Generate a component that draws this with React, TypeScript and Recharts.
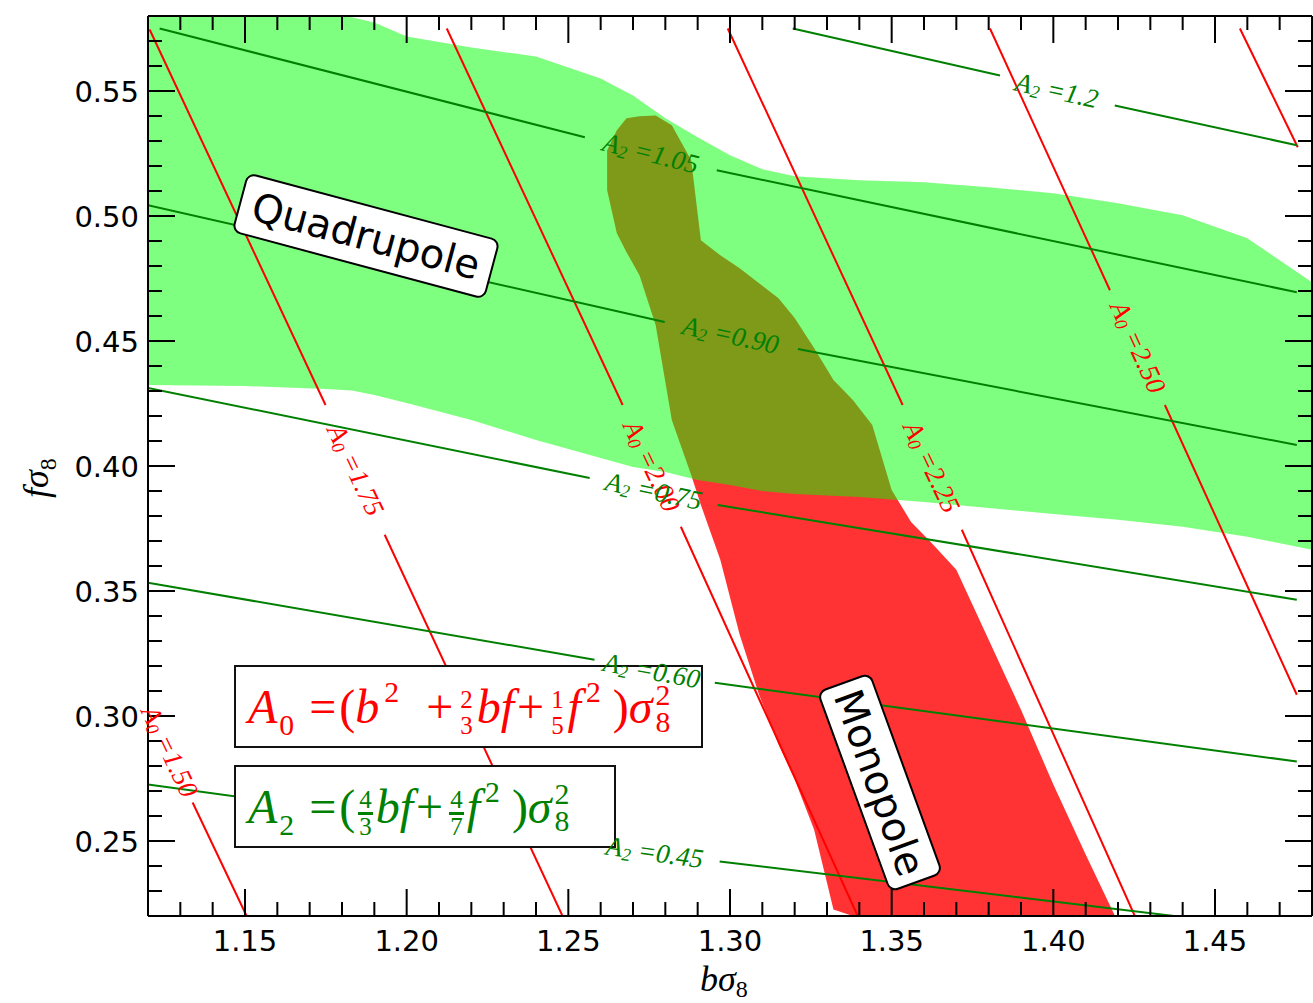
import React from 'react';
import { ComposedChart, Area, Line, XAxis, YAxis, ReferenceDot } from 'recharts';

// axis ticks (minor every 0.01, labelled every 0.05)
const X_TICKS = [
  1.13, 1.14, 1.15, 1.16, 1.17, 1.18, 1.19, 1.2, 1.21, 1.22, 1.23, 1.24, 1.25, 1.26, 1.27, 1.28, 1.29,
  1.3, 1.31, 1.32, 1.33, 1.34, 1.35, 1.36, 1.37, 1.38, 1.39, 1.4, 1.41, 1.42, 1.43, 1.44, 1.45, 1.46, 1.47,
];
const Y_TICKS = [
  0.23, 0.24, 0.25, 0.26, 0.27, 0.28, 0.29, 0.3, 0.31, 0.32, 0.33, 0.34, 0.35, 0.36, 0.37, 0.38, 0.39,
  0.4, 0.41, 0.42, 0.43, 0.44, 0.45, 0.46, 0.47, 0.48, 0.49, 0.5, 0.51, 0.52, 0.53, 0.54, 0.55, 0.56, 0.57,
];

// quadrupole band (green)
const quadX = [1.12, 1.15, 1.175, 1.183, 1.19, 1.2, 1.22, 1.24, 1.26, 1.27, 1.28, 1.29, 1.3, 1.31, 1.32, 1.34, 1.36, 1.38, 1.4, 1.42, 1.44, 1.46, 1.48];
const quadLow = [0.4324, 0.432, 0.4308, 0.4302, 0.4284, 0.4252, 0.4184, 0.4104, 0.4032, 0.3996, 0.3976, 0.3944, 0.3924, 0.39, 0.3888, 0.3876, 0.3856, 0.3832, 0.3808, 0.3785, 0.3757, 0.3717, 0.3665];
const quadHigh = [0.58, 0.58, 0.58, 0.5795, 0.5774, 0.5718, 0.5674, 0.5638, 0.555, 0.5482, 0.5391, 0.5315, 0.5243, 0.5187, 0.5159, 0.5143, 0.5135, 0.5115, 0.5091, 0.5051, 0.5003, 0.4911, 0.4735];

// monopole region (red)
const monoX = [1.262, 1.265, 1.268, 1.272, 1.277, 1.282, 1.288, 1.291, 1.297, 1.303, 1.309, 1.315, 1.32, 1.326, 1.332, 1.338, 1.344, 1.35, 1.356, 1.362, 1.37, 1.38, 1.39, 1.4, 1.41, 1.419];
const monoLow = [0.5103, 0.4931, 0.4855, 0.4763, 0.4564, 0.4184, 0.3964, 0.3844, 0.3625, 0.3325, 0.3085, 0.2886, 0.2746, 0.2546, 0.2226, 0.22, 0.22, 0.22, 0.22, 0.22, 0.22, 0.22, 0.22, 0.22, 0.22, 0.22];
const monoHigh = [0.5263, 0.5343, 0.5391, 0.5399, 0.5402, 0.5363, 0.5223, 0.4903, 0.4843, 0.4791, 0.4731, 0.4671, 0.4592, 0.4472, 0.4344, 0.4264, 0.4164, 0.3904, 0.3776, 0.3697, 0.3585, 0.3305, 0.3025, 0.2726, 0.2446, 0.2202];

type Contour = { xs: number[]; ys: (number | null)[] };

// A0 contours, a null marks the gap left for the inline label
const A0_CONTOURS: Contour[] = [
  { xs: [1.1338, 1.1505], ys: [0.2654, 0.22] },
  { xs: [1.1205, 1.1749, 1.1842, 1.1932, 1.2482], ys: [0.5746, 0.4244, null, 0.3725, 0.22] },
  { xs: [1.2124, 1.2668, 1.2758, 1.2848, 1.3395], ys: [0.575, 0.4244, null, 0.3757, 0.22] },
  { xs: [1.2993, 1.3534, 1.3624, 1.3717, 1.4252], ys: [0.575, 0.4244, null, 0.3745, 0.22] },
  { xs: [1.3804, 1.4175, 1.4262, 1.4345, 1.4753], ys: [0.575, 0.4703, null, 0.4244, 0.3085] },
  { xs: [1.4577, 1.4756], ys: [0.575, 0.5275] },
];

const A2_CONTOURS: Contour[] = [
  { xs: [1.3194, 1.3835, 1.4011, 1.419, 1.4753], ys: [0.575, 0.5562, null, 0.5442, 0.5283] },
  { xs: [1.1236, 1.2551, 1.2755, 1.2959, 1.4753], ys: [0.575, 0.5315, null, 0.5183, 0.4695] },
  { xs: [1.12, 1.2798, 1.3002, 1.321, 1.4753], ys: [0.5043, 0.4576, null, 0.4468, 0.4084] },
  { xs: [1.12, 1.2566, 1.2764, 1.2962, 1.4753], ys: [0.4312, 0.3952, null, 0.3844, 0.3465] },
  { xs: [1.12, 1.2581, 1.2758, 1.2953, 1.4753], ys: [0.3533, 0.3225, null, 0.3133, 0.2818] },
  { xs: [1.12, 1.2566, 1.2767, 1.2968, 1.4373], ys: [0.2726, 0.2486, null, 0.2418, 0.22] },
];

const A0_LABELS = [
  { text: '1.50', x: 1.1267, y: 0.2858 },
  { text: '1.75', x: 1.1842, y: 0.3984 },
  { text: '2.00', x: 1.2758, y: 0.4 },
  { text: '2.25', x: 1.3624, y: 0.3996 },
  { text: '2.50', x: 1.4262, y: 0.4476 },
];
const A0_ANGLES = [64.5, 64.5, 64.5, 64.5, 65.5];

const A2_LABELS = [
  { text: '1.2', x: 1.4011, y: 0.5502 },
  { text: '1.05', x: 1.2755, y: 0.5251 },
  { text: '0.90', x: 1.3002, y: 0.4524 },
  { text: '0.75', x: 1.2764, y: 0.39 },
  { text: '0.60', x: 1.2758, y: 0.3181 },
  { text: '0.45', x: 1.2767, y: 0.2454 },
];
const A2_ANGLES = [12.5, 14, 12, 12, 10.5, 8];

const RED = '#ff0000';
const GREEN = '#008000';
const TICK_FONT = 'DejaVu Sans, sans-serif';
const MATH_FONT = 'Liberation Serif, serif';
const X_DOMAIN: [number, number] = [1.12, 1.48];
const Y_DOMAIN: [number, number] = [0.22, 0.58];

const quadRows = quadX.map((x, i) => ({ x, band: [quadLow[i], quadHigh[i]] }));
const monoRows = monoX.map((x, i) => ({ x, band: [monoLow[i], monoHigh[i]] }));
const toRows = (c: Contour) => c.xs.map((x, i) => ({ x, y: c.ys[i] }));

const isMajor = (v: number) => Math.round(v * 100) % 5 === 0;

function BottomTick(props: any) {
  const { x, y, payload } = props;
  const major = isMajor(payload.value);
  return (
    <g>
      <line x1={x} x2={x} y1={y} y2={y - (major ? 27 : 14)} stroke="#000" strokeWidth={2} />
      {major && (
        <text x={x} y={y + 35} textAnchor="middle" fontFamily={TICK_FONT} fontSize={29} fill="#000">
          {payload.value.toFixed(2)}
        </text>
      )}
    </g>
  );
}

function TopTick(props: any) {
  const { x, y, payload } = props;
  const major = isMajor(payload.value);
  return <line x1={x} x2={x} y1={y} y2={y + (major ? 27 : 14)} stroke="#000" strokeWidth={2} />;
}

function LeftTick(props: any) {
  const { x, y, payload } = props;
  const major = isMajor(payload.value);
  return (
    <g>
      <line x1={x} x2={x + (major ? 27 : 14)} y1={y} y2={y} stroke="#000" strokeWidth={2} />
      {major && (
        <text x={x - 9} y={y + 10.5} textAnchor="end" fontFamily={TICK_FONT} fontSize={29} fill="#000">
          {payload.value.toFixed(2)}
        </text>
      )}
    </g>
  );
}

function RightTick(props: any) {
  const { x, y, payload } = props;
  const major = isMajor(payload.value);
  return <line x1={x} x2={x - (major ? 27 : 14)} y1={y} y2={y} stroke="#000" strokeWidth={2} />;
}

function ContourLabel({ cx, cy, angle, color, sub, text }: any) {
  return (
    <text
      x={cx}
      y={cy}
      transform={`rotate(${angle} ${cx} ${cy})`}
      textAnchor="middle"
      dominantBaseline="central"
      fill={color}
      fontFamily={MATH_FONT}
      fontStyle="italic"
      fontSize={27}
    >
      A<tspan fontSize={18} dy={6}>{sub}</tspan>
      <tspan dy={-6}> ={text}</tspan>
    </text>
  );
}

function Frac({ n, d, bar }: { n: string; d: string; bar?: boolean }) {
  return (
    <span
      style={{
        display: 'inline-flex',
        flexDirection: 'column',
        alignItems: 'center',
        fontSize: '0.52em',
        lineHeight: 0.95,
        verticalAlign: '0.6em',
        margin: '0 3px',
        fontStyle: 'normal',
      }}
    >
      <span style={{ borderBottom: bar ? '3px solid currentColor' : '2px solid transparent', padding: '0 1px' }}>{n}</span>
      <span>{d}</span>
    </span>
  );
}

function SubSup({ sub, sup }: { sub: string; sup: string }) {
  return (
    <span
      style={{
        display: 'inline-flex',
        flexDirection: 'column',
        fontSize: '0.62em',
        lineHeight: 0.9,
        verticalAlign: '0.62em',
        fontStyle: 'normal',
        marginLeft: 3,
      }}
    >
      <span>{sup}</span>
      <span>{sub}</span>
    </span>
  );
}

const Sup = ({ c }: { c: string }) => (
  <span style={{ fontSize: '0.62em', verticalAlign: '0.7em', fontStyle: 'normal', lineHeight: 0, marginLeft: 5 }}>{c}</span>
);
const Sub = ({ c }: { c: string }) => (
  <span style={{ fontSize: '0.62em', verticalAlign: '-0.4em', fontStyle: 'normal', lineHeight: 0, marginLeft: 2 }}>{c}</span>
);
const Op = ({ c }: { c: string }) => <span style={{ margin: '0 3px' }}>{c}</span>;

const legendBox = (top: number, width: number, color: string): React.CSSProperties => ({
  position: 'absolute',
  left: 234,
  top,
  width,
  height: 83,
  boxSizing: 'border-box',
  border: '2px solid #111',
  background: '#fff',
  color,
  fontFamily: MATH_FONT,
  fontSize: 48,
  display: 'flex',
  alignItems: 'center',
  paddingLeft: 12,
  paddingTop: 4,
  whiteSpace: 'nowrap',
});

const tagBox = (cx: number, cy: number, w: number, h: number, angle: number): React.CSSProperties => ({
  position: 'absolute',
  left: cx - w / 2,
  top: cy - h / 2,
  width: w,
  height: h,
  boxSizing: 'border-box',
  transform: `rotate(${angle}deg)`,
  border: '2px solid #000',
  borderRadius: 9,
  background: '#fff',
  display: 'flex',
  alignItems: 'center',
  justifyContent: 'center',
  fontFamily: TICK_FONT,
  fontSize: 40,
  color: '#000',
});

const layer: React.CSSProperties = { position: 'absolute', left: 0, top: 0 };

export default function App() {
  return (
    <div style={{ position: 'absolute', left: 0, top: 0, width: 1313, height: 1003, background: '#fff', overflow: 'hidden' }}>
      <div style={layer}>
        <ComposedChart width={1313} height={1003} margin={{ top: 15, right: 0, bottom: 7, left: 8 }}>
          <XAxis
            xAxisId="b"
            type="number"
            dataKey="x"
            domain={X_DOMAIN}
            allowDataOverflow
            ticks={X_TICKS}
            interval={0}
            height={80}
            tickSize={0}
            tickMargin={0}
            tickLine={false}
            axisLine={{ stroke: '#000', strokeWidth: 2 }}
            tick={(p: any) => <BottomTick {...p} />}
          />
          <XAxis
            xAxisId="t"
            orientation="top"
            type="number"
            dataKey="x"
            domain={X_DOMAIN}
            allowDataOverflow
            ticks={X_TICKS}
            interval={0}
            height={1}
            tickSize={0}
            tickMargin={0}
            tickLine={false}
            axisLine={{ stroke: '#000', strokeWidth: 2 }}
            tick={(p: any) => <TopTick {...p} />}
          />
          <YAxis
            yAxisId="l"
            type="number"
            domain={Y_DOMAIN}
            allowDataOverflow
            ticks={Y_TICKS}
            interval={0}
            width={140}
            tickSize={0}
            tickMargin={0}
            tickLine={false}
            axisLine={{ stroke: '#000', strokeWidth: 2 }}
            tick={(p: any) => <LeftTick {...p} />}
          />
          <YAxis
            yAxisId="r"
            orientation="right"
            type="number"
            domain={Y_DOMAIN}
            allowDataOverflow
            ticks={Y_TICKS}
            interval={0}
            width={1}
            tickSize={0}
            tickMargin={0}
            tickLine={false}
            axisLine={{ stroke: '#000', strokeWidth: 2 }}
            tick={(p: any) => <RightTick {...p} />}
          />

          <Area
            xAxisId="t"
            yAxisId="r"
            data={monoRows}
            dataKey="band"
            type="linear"
            stroke="none"
            fill={RED}
            fillOpacity={0.8}
            isAnimationActive={false}
          />
          <Area
            xAxisId="b"
            yAxisId="l"
            data={quadRows}
            dataKey="band"
            type="linear"
            stroke="none"
            fill="#00ff00"
            fillOpacity={0.5}
            isAnimationActive={false}
          />

          {A0_CONTOURS.map((c, i) => (
            <Line
              key={`a0-${i}`}
              xAxisId="b"
              yAxisId="l"
              data={toRows(c)}
              dataKey="y"
              type="linear"
              stroke={RED}
              strokeWidth={2}
              dot={false}
              activeDot={false}
              connectNulls={false}
              isAnimationActive={false}
            />
          ))}
          {A2_CONTOURS.map((c, i) => (
            <Line
              key={`a2-${i}`}
              xAxisId="b"
              yAxisId="l"
              data={toRows(c)}
              dataKey="y"
              type="linear"
              stroke={GREEN}
              strokeWidth={2}
              dot={false}
              activeDot={false}
              connectNulls={false}
              isAnimationActive={false}
            />
          ))}
        </ComposedChart>
      </div>

      {/* axis titles */}
      <svg width={1313} height={1003} style={{ ...layer, pointerEvents: 'none' }}>
        <text x={700} y={991} fontFamily={MATH_FONT} fontStyle="italic" fontSize={36} fill="#000">
          bσ<tspan fontSize={24} dy={6} fontStyle="normal">8</tspan>
        </text>
        <text
          x={0}
          y={0}
          transform="translate(48 498) rotate(-90)"
          fontFamily={MATH_FONT}
          fontStyle="italic"
          fontSize={36}
          fill="#000"
        >
          fσ<tspan fontSize={24} dy={8} fontStyle="normal">8</tspan>
        </text>
      </svg>

      {/* region tags */}
      <div style={tagBox(366, 236, 262, 62, 15)}>Quadrupole</div>
      <div style={tagBox(880, 782, 214, 57, 70)}>Monopole</div>

      {/* formula boxes */}
      <div style={legendBox(665, 469, RED)}>
        <span>
          <i>A</i>
          <Sub c="0" />
          <span>&nbsp;</span>
          <Op c="=" />
          <span>(</span>
          <i>b</i>
          <Sup c="2" />
          <span>&nbsp;&nbsp;</span>
          <Op c="+" />
          <Frac n="2" d="3" />
          <i>bf</i>
          <Op c="+" />
          <Frac n="1" d="5" />
          <i>f</i>
          <Sup c="2" />
          <span>&nbsp;)</span>
          <i>σ</i>
          <SubSup sub="8" sup="2" />
        </span>
      </div>
      <div style={legendBox(765, 382, GREEN)}>
        <span>
          <i>A</i>
          <Sub c="2" />
          <span>&nbsp;</span>
          <Op c="=" />
          <span>(</span>
          <Frac n="4" d="3" bar />
          <i>bf</i>
          <Op c="+" />
          <Frac n="4" d="7" bar />
          <i>f</i>
          <Sup c="2" />
          <span>&nbsp;)</span>
          <i>σ</i>
          <SubSup sub="8" sup="2" />
        </span>
      </div>

      {/* contour labels sit above the boxes */}
      <div style={{ ...layer, pointerEvents: 'none' }}>
        <ComposedChart width={1313} height={1003} margin={{ top: 16, right: 1, bottom: 87, left: 148 }}>
          <XAxis xAxisId="b" type="number" dataKey="x" domain={X_DOMAIN} allowDataOverflow hide />
          <YAxis yAxisId="l" type="number" domain={Y_DOMAIN} allowDataOverflow hide />
          {A0_LABELS.map((l, i) => (
            <ReferenceDot
              key={`a0l-${i}`}
              xAxisId="b"
              yAxisId="l"
              x={l.x}
              y={l.y}
              r={0}
              ifOverflow="hidden"
              shape={(p: any) => (
                <ContourLabel cx={p.cx} cy={p.cy} angle={A0_ANGLES[i]} color={RED} sub="0" text={l.text} />
              )}
            />
          ))}
          {A2_LABELS.map((l, i) => (
            <ReferenceDot
              key={`a2l-${i}`}
              xAxisId="b"
              yAxisId="l"
              x={l.x}
              y={l.y}
              r={0}
              ifOverflow="hidden"
              shape={(p: any) => (
                <ContourLabel cx={p.cx} cy={p.cy} angle={A2_ANGLES[i]} color={GREEN} sub="2" text={l.text} />
              )}
            />
          ))}
        </ComposedChart>
      </div>
    </div>
  );
}
